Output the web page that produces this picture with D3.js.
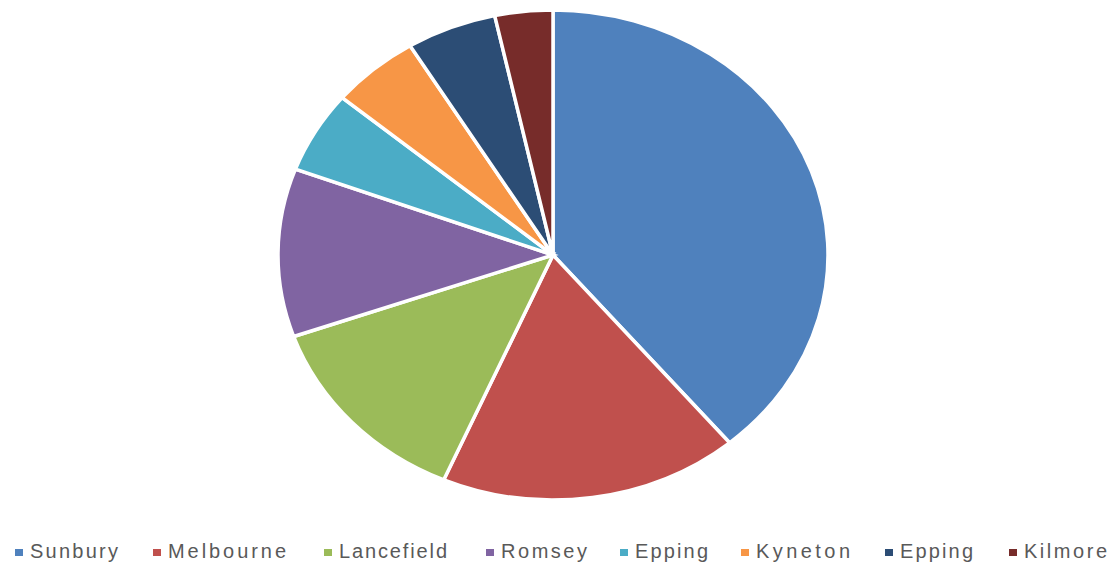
<!DOCTYPE html>
<html><head><meta charset="utf-8">
<script src="https://cdn.jsdelivr.net/npm/d3@7"></script>
<style>body{margin:0;background:#fff;}svg{display:block;}</style>
</head><body>
<svg id="c" width="1113" height="563"></svg>
<script>
const categories = ["Sunbury","Melbourne","Lancefield","Romsey","Epping","Kyneton","Epping","Kilmore"];
const values = [38.9, 17.6, 13.1, 11.1, 5.4, 5.2, 5.3, 3.4];
const colors = ["#4F81BD","#C0504D","#9BBB59","#8064A2","#4BACC6","#F79646","#2C4D75","#772C2A"];

const svg = d3.select("#c");
const cx = 553, cy = 255, rx = 275, ry = 245;
const data = categories.map((c,i)=>({name:c, value:values[i], color:colors[i]}));
const pie = d3.pie().value(d=>d.value).sort(null);
const arc = d3.arc().innerRadius(0).outerRadius(ry);
const g = svg.append("g").attr("transform", `translate(${cx},${cy}) scale(${rx/ry},1)`);
g.selectAll("path").data(pie(data)).join("path")
  .attr("d", arc)
  .attr("fill", d=>d.data.color)
  .attr("stroke", "#fff")
  .attr("stroke-width", 3.5)
  .attr("vector-effect", "non-scaling-stroke");

// legend layout (pixel positions of each key, and text widths)
const legendSquareX = [15, 153, 324, 486, 620, 741, 885, 1009];
const textWidths = [88, 118, 108, 86, 73, 94, 73, 83];
const leg = svg.append("g");
data.forEach((d,i)=>{
  const x = legendSquareX[i];
  leg.append("rect").attr("x", x).attr("y", 549).attr("width", 8).attr("height", 7).attr("fill", d.color);
  leg.append("text").attr("x", x + 15).attr("y", 558)
    .attr("font-family","Liberation Sans, Arial, sans-serif").attr("font-size", 20)
    .attr("fill","#595959")
    .attr("textLength", textWidths[i]).attr("lengthAdjust","spacing")
    .text(d.name);
});
</script>
</body></html>
